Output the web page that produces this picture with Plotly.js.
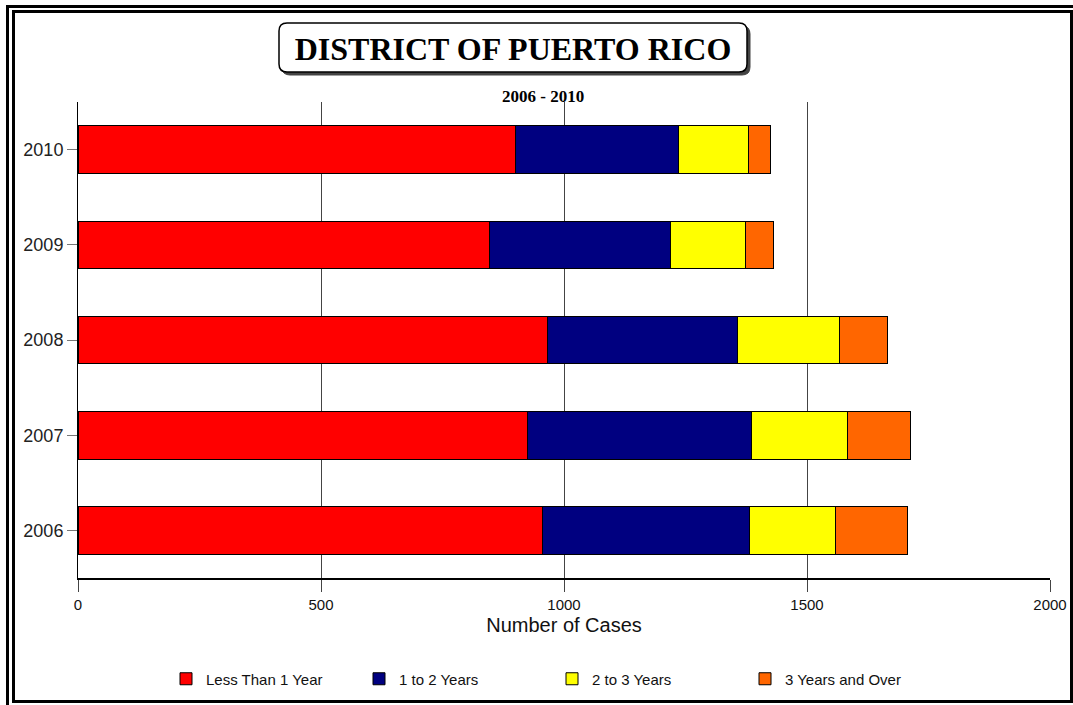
<!DOCTYPE html>
<html>
<head>
<meta charset="utf-8">
<script src="https://cdn.plot.ly/plotly-3.0.1.min.js"></script>
<style>
  html, body { margin: 0; padding: 0; background: #fff; }
  #chart { width: 1073px; height: 705px; }
</style>
</head>
<body>
<div id="chart"></div>
<script>
// ---- data ----
var years = ['2006', '2007', '2008', '2009', '2010'];
var lessThan1 = [955, 924, 967, 847, 901];
var oneTo2 = [426, 462, 390, 372, 335];
var twoTo3 = [177, 197, 210, 154, 144];
var threePlus = [148, 129, 99, 58, 45];
var seriesNames = ['Less Than 1 Year', '1 to 2 Years', '2 to 3 Years', '3 Years and Over'];
var xTicks = [0, 500, 1000, 1500, 2000];

// ---- layout helpers (pixel -> paper) ----
var W = 1073, H = 705;
var L = 78, R = 23, T = 102, B = 127;
var PW = W - L - R, PH = H - T - B;
function px(x) { return (x - L) / PW; }
function py(y) { return (H - B - y) / PH; }
function roundRect(x0, y0, x1, y1, r) {
  var rx = r / PW, ry = r / PH;
  var a = px(x0), b = px(x1), top = py(y0), bot = py(y1);
  return 'M' + (a + rx) + ',' + top +
    ' L' + (b - rx) + ',' + top +
    ' Q' + b + ',' + top + ' ' + b + ',' + (top - ry) +
    ' L' + b + ',' + (bot + ry) +
    ' Q' + b + ',' + bot + ' ' + (b - rx) + ',' + bot +
    ' L' + (a + rx) + ',' + bot +
    ' Q' + a + ',' + bot + ' ' + a + ',' + (bot + ry) +
    ' L' + a + ',' + (top - ry) +
    ' Q' + a + ',' + top + ' ' + (a + rx) + ',' + top + ' Z';
}

var colors = ['#FF0000', '#000080', '#FFFF00', '#FF6600'];
var values = [lessThan1, oneTo2, twoTo3, threePlus];

var traces = values.map(function (v, i) {
  return {
    type: 'bar',
    orientation: 'h',
    y: years,
    x: v,
    name: seriesNames[i],
    marker: { color: colors[i], line: { color: '#000000', width: 1 } },
    hoverinfo: 'x+y+name'
  };
});

var layout = {
  width: W,
  height: H,
  margin: { l: L, r: R, t: T, b: B, pad: 0, autoexpand: false },
  paper_bgcolor: '#ffffff',
  plot_bgcolor: '#ffffff',
  barmode: 'stack',
  bargap: 0.5,
  font: { family: 'Liberation Sans, Arial, sans-serif', color: '#111' },
  title: {
    text: 'DISTRICT OF PUERTO RICO',
    xref: 'container', yref: 'container',
    x: 513 / W, y: 1 - 49 / H,
    xanchor: 'center', yanchor: 'middle',
    font: { family: 'Liberation Serif, Times New Roman, serif', size: 32, color: '#000', weight: 'bold' }
  },
  xaxis: {
    range: [0, 2000],
    tickvals: xTicks,
    ticktext: xTicks.map(String),
    showgrid: true,
    gridcolor: '#444444',
    gridwidth: 1,
    zeroline: false,
    showline: true,
    linecolor: '#000000',
    linewidth: 1.5,
    ticks: 'outside',
    ticklen: 12,
    tickcolor: '#444444',
    tickfont: { size: 15, color: '#111' },
    title: { text: 'Number of Cases', font: { size: 20, color: '#111' }, standoff: 6 },
    fixedrange: true
  },
  yaxis: {
    type: 'category',
    categoryorder: 'array',
    categoryarray: years,
    showgrid: false,
    zeroline: false,
    showline: true,
    linecolor: '#000000',
    linewidth: 1,
    ticks: 'outside',
    ticklen: 10,
    tickcolor: '#777777',
    tickfont: { size: 18, color: '#222' },
    fixedrange: true
  },
  showlegend: true,
  legend: {
    orientation: 'h',
    xref: 'paper', yref: 'paper',
    x: px(166), y: py(679),
    xanchor: 'left', yanchor: 'middle',
    entrywidth: 148,
    entrywidthmode: 'pixels',
    traceorder: 'normal',
    font: { size: 15, color: '#111' },
    bgcolor: 'rgba(0,0,0,0)'
  },
  annotations: [
    {
      text: '<b>2006 - 2010</b>',
      xref: 'paper', yref: 'paper',
      x: px(543), y: py(96),
      xanchor: 'center', yanchor: 'middle',
      showarrow: false,
      font: { family: 'Liberation Serif, Times New Roman, serif', size: 17, color: '#000' }
    }
  ],
  shapes: [
    // outer frame
    { type: 'rect', xref: 'paper', yref: 'paper', x0: px(7.5), x1: px(1082), y0: py(6.5), y1: py(714),
      line: { color: '#000', width: 3 }, fillcolor: 'rgba(0,0,0,0)', layer: 'below' },
    // inner frame
    { type: 'rect', xref: 'paper', yref: 'paper', x0: px(13.5), x1: px(1071.5), y0: py(11.5), y1: py(701.5),
      line: { color: '#000', width: 3 }, fillcolor: 'rgba(0,0,0,0)', layer: 'below' },
    // title box shadow
    { type: 'path', xref: 'paper', yref: 'paper', path: roundRect(282, 26, 750, 75, 8),
      fillcolor: '#444444', line: { color: '#444444', width: 1 }, layer: 'below' },
    // title box
    { type: 'path', xref: 'paper', yref: 'paper', path: roundRect(279, 23, 747, 72, 8),
      fillcolor: '#ffffff', line: { color: '#000000', width: 1.5 }, layer: 'below' }
  ]
};

Plotly.newPlot('chart', traces, layout, { displayModeBar: false, staticPlot: true });
</script>
</body>
</html>
